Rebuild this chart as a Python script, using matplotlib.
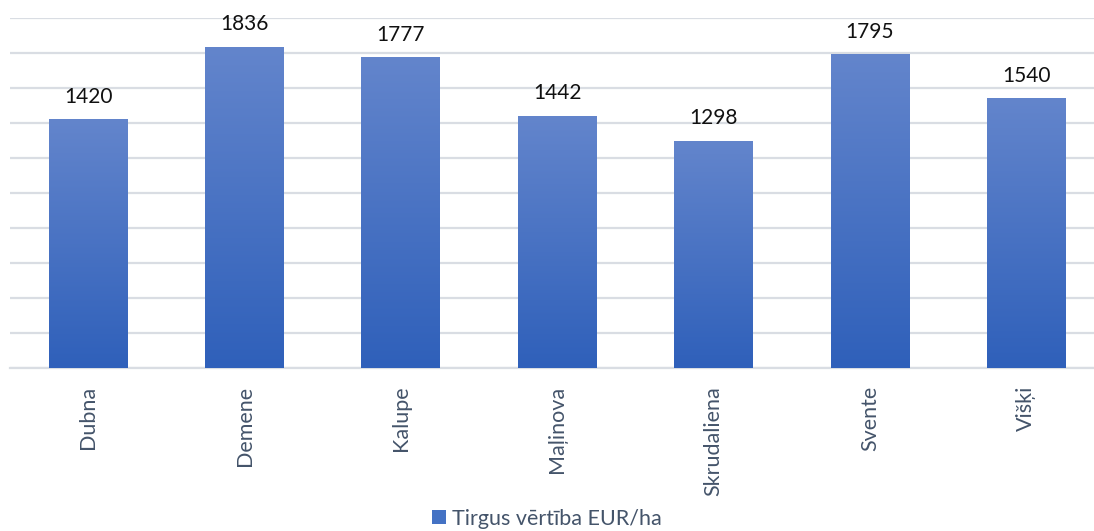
import matplotlib
matplotlib.use("Agg")
import matplotlib.pyplot as plt
import numpy as np
from matplotlib.colors import LinearSegmentedColormap
from matplotlib.patches import Patch

categories = ["Dubna", "Demene", "Kalupe", "Maļinova", "Skrudaliena", "Svente", "Višķi"]
values = [1420, 1836, 1777, 1442, 1298, 1795, 1540]
series_name = "Tirgus vērtība EUR/ha"

plt.rcParams['font.family'] = ['Lato', 'Open Sans', 'DejaVu Sans']

W, H = 1094, 531
fig = plt.figure(figsize=(W / 100, H / 100), dpi=100)
left = 10 / W
bottom = 1 - 367.7 / H
top = 1 - 18.3 / H
ax = fig.add_axes([left, bottom, 1 - left, top - bottom])

x = np.arange(len(categories))
bars = ax.bar(x, values, width=0.505, color="#4472c4", zorder=2)

cmap = LinearSegmentedColormap.from_list("g", ["#2f60ba", "#6385cc"])
grad = np.linspace(0, 1, 256).reshape(-1, 1)
for b in bars:
    x0, w, h = b.get_x(), b.get_width(), b.get_height()
    ax.imshow(grad, extent=[x0, x0 + w, 0, h], origin="lower", aspect="auto",
              cmap=cmap, zorder=3, interpolation="bicubic")
    b.set_visible(False)

for xi, v in zip(x, values):
    ax.annotate(f"{v}", (xi, v), xytext=(0, 9), textcoords="offset points",
                ha="center", va="bottom", fontsize=15, color="#111111")

step_px = 156
ax.set_xlim(-0.5, 6.5 - (1104.5 - W) / step_px)
ax.set_ylim(0, 2000)
ax.set_yticks(np.arange(0, 2001, 200))
ax.yaxis.grid(True, color="#d9dde3", linewidth=1.6, zorder=0)
ax.tick_params(axis="y", left=False, labelleft=False)
ax.set_xticks(x)
ax.set_xticklabels(categories, rotation=90, fontsize=15.5, color="#44546a", va="top")
ax.tick_params(axis="x", length=0, pad=13)
for s in ["left", "right", "top"]:
    ax.spines[s].set_visible(False)
ax.spines["bottom"].set_color("#d9dde3")
ax.spines["bottom"].set_linewidth(1.6)

handle = Patch(facecolor="#4472c4", edgecolor="none")
fig.legend([handle], [series_name], loc="lower center", bbox_to_anchor=(0.5, -0.032),
           frameon=False, fontsize=15.5, labelcolor="#44546a", handlelength=0.65,
           handleheight=0.65, handletextpad=0.3)

fig.savefig("out.png", dpi=100)
